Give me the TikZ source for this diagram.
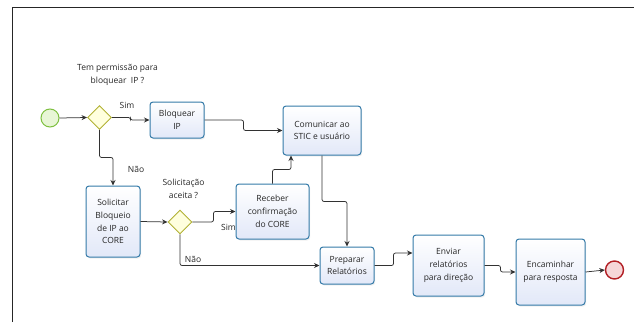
\documentclass[tikz,border=0pt]{standalone}
\usepackage{fontspec}
\setmainfont{Open Sans}
\usetikzlibrary{shapes.geometric,arrows.meta,calc,shadows}

\definecolor{taskborder}{RGB}{52,122,168}
\definecolor{taskfill}{RGB}{226,232,248}
\definecolor{gwborder}{RGB}{178,178,52}
\definecolor{gwfill}{RGB}{255,255,222}
\definecolor{startborder}{RGB}{126,192,64}
\definecolor{startfill}{RGB}{232,246,214}
\definecolor{endborder}{RGB}{178,30,36}
\definecolor{endfill}{RGB}{246,214,216}
\definecolor{flowline}{RGB}{50,50,50}
\definecolor{txt}{RGB}{38,38,38}

\tikzset{
  x=1pt, y=-1pt,
  every node/.style={font=\fontsize{8.5}{12.8}\selectfont, text=txt},
  task/.style={rectangle, rounded corners=3pt, draw=taskborder, line width=1pt,
    top color=white, bottom color=taskfill, align=center, inner sep=1pt,
    drop shadow={shadow xshift=1.2pt, shadow yshift=-1.5pt, opacity=0.12}},
  gateway/.style={diamond, draw=gwborder, fill=gwfill, line width=0.9pt,
    minimum width=24pt, minimum height=24pt, inner sep=0pt},
  startev/.style={circle, draw=startborder, fill=startfill, line width=1pt,
    minimum size=18pt, inner sep=0pt},
  endev/.style={circle, draw=endborder, fill=endfill, line width=1.4pt,
    minimum size=18pt, inner sep=0pt},
  flow/.style={draw=flowline, line width=0.75pt, rounded corners=2pt,
    -{Stealth[length=5.5pt,width=5pt]}},
  lbl/.style={align=center, inner sep=0pt},
}

\begin{document}
\begin{tikzpicture}
\useasboundingbox (0,0) rectangle (634,322);

% frame
\draw[line width=0.9pt, black!85] (12.5,322) -- (12.5,7) -- (634,7);

% labels
\node[lbl] (q1) at (117.5,74.5) {Tem permissão para\\bloquear\ \ IP ?};
\node[lbl] (sim1) at (127,105) {Sim};
\node[lbl] (nao1) at (136,169) {Não};
\node[lbl] (q2) at (183.5,188.5) {Solicitação\\aceita ?};
\node[lbl] (sim2) at (228.5,227.5) {Sim};
\node[lbl] (nao2) at (193,259) {Não};

% events and gateways
\node[startev] (start) at (50,118) {};
\node[gateway] (gw1) at (99.5,117.5) {};
\node[gateway] (gw2) at (180,222) {};
\node[endev] (end) at (614.5,270) {};

% tasks
\node[task, minimum width=54pt, minimum height=36pt] (bloq) at (177,120) {Bloquear\\IP};
\node[task, minimum width=78pt, minimum height=49pt] (com) at (322,130.5) {Comunicar ao\\STIC e usuário};
\node[task, minimum width=54pt, minimum height=71pt] (sol) at (113,221.5) {Solicitar\\Bloqueio\\de IP ao\\CORE};
\node[task, minimum width=73pt, minimum height=55pt] (rec) at (272.5,211.5) {Receber\\confirmação\\do CORE};
\node[task, minimum width=54pt, minimum height=37pt] (prep) at (347,265.5) {Preparar\\Relatórios};
\node[task, minimum width=71pt, minimum height=61pt] (env) at (448.5,265.5) {Enviar\\relatórios\\para direção};
\node[task, minimum width=69pt, minimum height=66pt] (enc) at (550.5,272) {Encaminhar\\para resposta};

% sequence flows
\draw[flow] (start.east) -- (gw1.west);
\draw[flow] (gw1.east) -- ++(18.5,0) |- (bloq.west);
\draw[flow] (gw1.south) -- ++(0,27.5) -| (sol.north);
\draw[flow] (bloq.east) -- ++(39,0) |- (com.west);
\draw[flow] (sol.east) -- (gw2.west);
\draw[flow] (gw2.east) -- ++(21,0) |- (rec.west);
\draw[flow] (gw2.south) |- (prep.west);
\draw[flow] (rec.north) -- ++(0,-14) -| ($(com.south)+(-31,0)$);
\draw[flow] (com.south) -- ++(0,46) -| (prep.north);
\draw[flow] (prep.east) -- ++(19,0) |- ($(env.west)+(0,-12.5)$);
\draw[flow] (env.east) -- ++(16,0) |- (enc.west);
\draw[flow] (enc.east) -- (end.west);
\end{tikzpicture}
\end{document}
